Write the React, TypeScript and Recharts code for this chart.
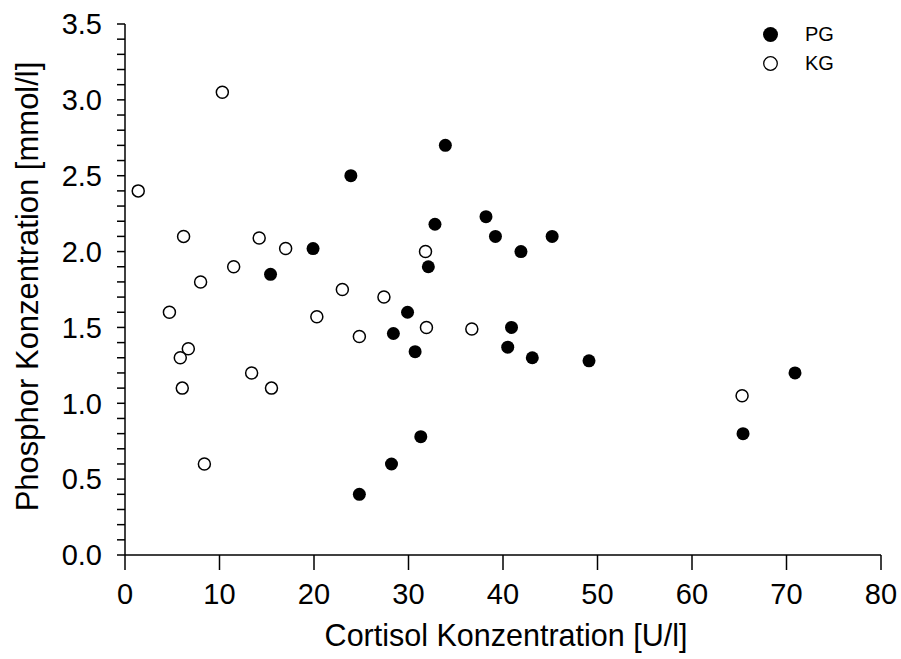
import React from 'react';
import { ScatterChart, Scatter, XAxis, YAxis } from 'recharts';

// Patientengruppe (gefuellte Kreise)
const pgCortisol = [23.9, 33.9, 32.8, 38.2, 39.2, 41.9, 45.2, 19.9, 15.4, 32.1, 29.9, 28.4, 30.7, 40.9, 40.5, 43.1, 31.3, 28.2, 24.8, 49.1, 70.9, 65.4];
const pgPhosphor = [2.5, 2.7, 2.18, 2.23, 2.1, 2.0, 2.1, 2.02, 1.85, 1.9, 1.6, 1.46, 1.34, 1.5, 1.37, 1.3, 0.78, 0.6, 0.4, 1.28, 1.2, 0.8];

// Kontrollgruppe (offene Kreise)
const kgCortisol = [1.4, 10.3, 6.2, 14.2, 17.0, 11.5, 8.0, 4.7, 23.0, 27.4, 20.3, 31.8, 31.9, 36.7, 24.8, 6.7, 5.85, 6.06, 13.4, 15.5, 8.4, 65.3];
const kgPhosphor = [2.4, 3.05, 2.1, 2.09, 2.02, 1.9, 1.8, 1.6, 1.75, 1.7, 1.57, 2.0, 1.5, 1.49, 1.44, 1.36, 1.3, 1.1, 1.2, 1.1, 0.6, 1.05];

const xTicks = [0, 10, 20, 30, 40, 50, 60, 70, 80];
const yTicks = [0, 0.1, 0.2, 0.3, 0.4, 0.5, 0.6, 0.7, 0.8, 0.9, 1.0, 1.1, 1.2, 1.3, 1.4, 1.5, 1.6, 1.7, 1.8, 1.9, 2.0, 2.1, 2.2, 2.3, 2.4, 2.5, 2.6, 2.7, 2.8, 2.9, 3.0, 3.1, 3.2, 3.3, 3.4, 3.5];

const legendItems = [
  { name: 'PG', filled: true },
  { name: 'KG', filled: false },
];

const pgData = pgCortisol.map((x, i) => ({ x, y: pgPhosphor[i] }));
const kgData = kgCortisol.map((x, i) => ({ x, y: kgPhosphor[i] }));

const FONT = '"Liberation Sans", Arial, sans-serif';

const FilledDot = (props: any) => <circle cx={props.cx} cy={props.cy} r={6.5} fill="#000" />;
const OpenDot = (props: any) => (
  <circle cx={props.cx} cy={props.cy} r={6} fill="#fff" stroke="#000" strokeWidth={1.5} />
);

const yFormat = (v: number) => (Math.abs(v * 2 - Math.round(v * 2)) < 1e-6 ? v.toFixed(1) : '');

// legend drawn as overlay so it doesn't eat plot space
const LegendBox = () => (
  <div
    style={{
      position: 'absolute',
      left: 762,
      top: 20,
      fontFamily: FONT,
      fontSize: 20,
      lineHeight: '29px',
      color: '#000',
    }}
  >
    {legendItems.map((item) => (
      <div key={item.name} style={{ display: 'flex', alignItems: 'center' }}>
        <svg width={17} height={17} style={{ marginRight: 26 }}>
          {item.filled ? (
            <circle cx={8.5} cy={8.5} r={7.5} fill="#000" />
          ) : (
            <circle cx={8.5} cy={8.5} r={6.8} fill="#fff" stroke="#000" strokeWidth={1.3} />
          )}
        </svg>
        <span>{item.name}</span>
      </div>
    ))}
  </div>
);

export default function App() {
  return (
    <div style={{ position: 'absolute', left: 0, top: 0, width: 901, height: 659, background: '#fff' }}>
      <ScatterChart width={901} height={659} margin={{ top: 24, right: 20, left: 0, bottom: 0 }}>
        <XAxis
          type="number"
          dataKey="x"
          domain={[0, 80]}
          ticks={xTicks}
          height={104}
          tickSize={15}
          tickMargin={13}
          stroke="#000"
          strokeWidth={1.5}
          tick={{ fill: '#000', fontSize: 29, fontFamily: FONT }}
          label={(p: any) => {
            const vb = p.viewBox;
            return (
              <text x={vb.x + vb.width / 2 + 3} y={646} textAnchor="middle" fill="#000" fontSize={30.5} fontFamily={FONT}>
                Cortisol Konzentration [U/l]
              </text>
            );
          }}
        />
        <YAxis
          type="number"
          dataKey="y"
          domain={[0, 3.5]}
          ticks={yTicks}
          interval={0}
          width={125}
          tickSize={8}
          tickMargin={15}
          stroke="#000"
          strokeWidth={1.5}
          tickFormatter={yFormat}
          tick={{ fill: '#000', fontSize: 29, fontFamily: FONT }}
          label={(p: any) => {
            const vb = p.viewBox;
            const cx = 27;
            const cy = vb.y + vb.height / 2 - 3;
            return (
              <text
                x={cx}
                y={cy}
                transform={`rotate(-90 ${cx} ${cy})`}
                textAnchor="middle"
                dominantBaseline="central"
                fill="#000"
                fontSize={31}
                fontFamily={FONT}
              >
                Phosphor Konzentration [mmol/l]
              </text>
            );
          }}
        />
        <Scatter name="PG" data={pgData} shape={FilledDot} isAnimationActive={false} />
        <Scatter name="KG" data={kgData} shape={OpenDot} isAnimationActive={false} />
      </ScatterChart>
      <LegendBox />
    </div>
  );
}
